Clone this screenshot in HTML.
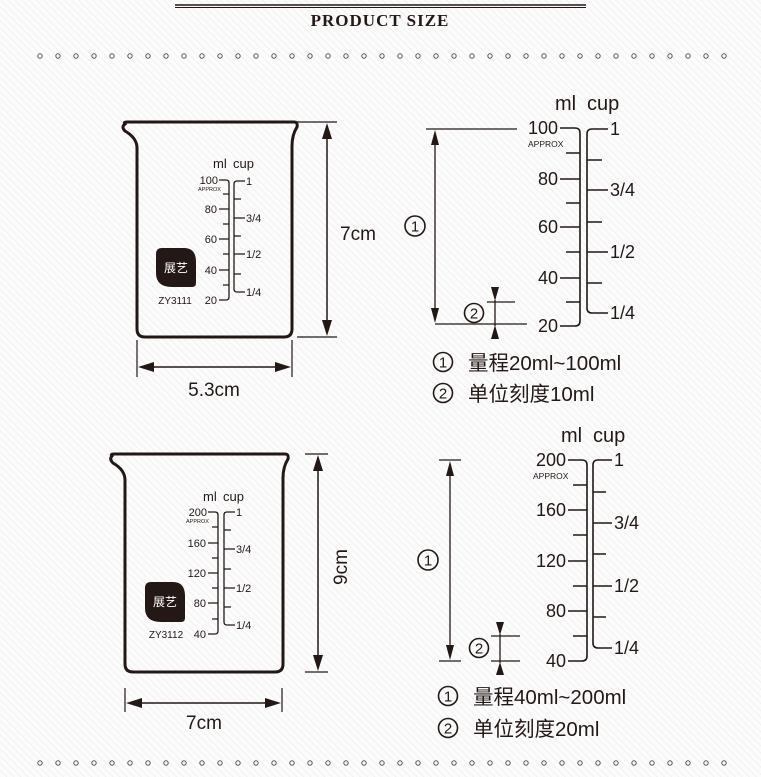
<!DOCTYPE html>
<html><head><meta charset="utf-8"><style>
html,body{margin:0;padding:0;background:#fff}
svg{display:block}
text{font-family:"Liberation Sans","Noto Sans CJK SC",sans-serif;fill:#231815}
</style></head><body>
<svg width="761" height="777" viewBox="0 0 761 777" xmlns="http://www.w3.org/2000/svg">
<defs>
<pattern id="st" width="5" height="5" patternUnits="userSpaceOnUse" patternTransform="rotate(-45)">
<rect width="5" height="5" fill="#fcfcfc"/><rect width="1" height="5" fill="#f1f1f1"/>
</pattern>
<g id="dots" fill="none" stroke="#555" stroke-width="1">
<circle cx="40" cy="0" r="2.2"/><circle cx="58" cy="0" r="2.2"/><circle cx="76" cy="0" r="2.2"/><circle cx="94" cy="0" r="2.2"/><circle cx="112" cy="0" r="2.2"/><circle cx="130" cy="0" r="2.2"/><circle cx="148" cy="0" r="2.2"/><circle cx="166" cy="0" r="2.2"/><circle cx="184" cy="0" r="2.2"/><circle cx="202" cy="0" r="2.2"/><circle cx="220" cy="0" r="2.2"/><circle cx="238" cy="0" r="2.2"/><circle cx="256" cy="0" r="2.2"/><circle cx="274" cy="0" r="2.2"/><circle cx="292" cy="0" r="2.2"/><circle cx="310" cy="0" r="2.2"/><circle cx="328" cy="0" r="2.2"/><circle cx="346" cy="0" r="2.2"/><circle cx="364" cy="0" r="2.2"/><circle cx="382" cy="0" r="2.2"/><circle cx="400" cy="0" r="2.2"/><circle cx="418" cy="0" r="2.2"/><circle cx="436" cy="0" r="2.2"/><circle cx="454" cy="0" r="2.2"/><circle cx="472" cy="0" r="2.2"/><circle cx="490" cy="0" r="2.2"/><circle cx="508" cy="0" r="2.2"/><circle cx="526" cy="0" r="2.2"/><circle cx="544" cy="0" r="2.2"/><circle cx="562" cy="0" r="2.2"/><circle cx="580" cy="0" r="2.2"/><circle cx="598" cy="0" r="2.2"/><circle cx="616" cy="0" r="2.2"/><circle cx="634" cy="0" r="2.2"/><circle cx="652" cy="0" r="2.2"/><circle cx="670" cy="0" r="2.2"/><circle cx="688" cy="0" r="2.2"/><circle cx="706" cy="0" r="2.2"/><circle cx="724" cy="0" r="2.2"/>
</g>
</defs>
<rect width="761" height="777" fill="url(#st)"/>

<!-- header -->
<line x1="175" y1="5" x2="586" y2="5" stroke="#231815" stroke-width="1.5"/>
<line x1="175" y1="7.5" x2="586" y2="7.5" stroke="#231815" stroke-width="1"/>
<text x="380" y="26" text-anchor="middle" style="font-family:'Liberation Serif',serif;font-weight:bold;font-size:17px;letter-spacing:1px">PRODUCT  SIZE</text>
<use href="#dots" y="56"/>
<use href="#dots" y="763"/>

<g stroke="#231815" fill="none">
<!-- beaker 1 -->
<path d="M125,124 Q123,122 127,122 L294,122 Q298,122 297,127 Q292,135 292,146 L292,329 Q292,337 284,337 L145,337 Q137,337 137,329 L137,148 Q137,138 125,131 Q121,127 125,124 Z" stroke-width="3"/>
<line x1="297" y1="122" x2="337" y2="122" stroke-width="1.2"/>
<line x1="297" y1="337" x2="337" y2="337" stroke-width="1.2"/>
<line x1="327" y1="130" x2="327" y2="330" stroke-width="1.5"/>
<line x1="137" y1="340" x2="137" y2="377" stroke-width="1.2"/>
<line x1="292" y1="340" x2="292" y2="377" stroke-width="1.2"/>
<line x1="145" y1="367" x2="285" y2="367" stroke-width="1.5"/>
<path d="M219,180 L226,180 Q229,180 229,183 L229,297 Q229,300 226,300 L219,300" stroke-width="1.3"/>
<path d="M219,209 H229 M219,239 H229 M219,270 H229 M223,194 H229 M223,224 H229 M223,254 H229 M223,285 H229" stroke-width="1.3"/>
<path d="M245,181 L237,181 Q234,181 234,184 L234,289 Q234,292 237,292 L245,292" stroke-width="1.3"/>
<path d="M234,218 H245 M234,254 H245 M234,199 H241 M234,236 H241 M234,274 H241" stroke-width="1.3"/>

<!-- beaker 2 -->
<path d="M112,456 Q110,454 114,454 L285,454 Q289,454 288,459 Q283,467 283,478 L283,664 Q283,672 275,672 L133,672 Q125,672 125,664 L125,480 Q125,470 113,463 Q109,459 112,456 Z" stroke-width="3"/>
<line x1="305" y1="454" x2="328" y2="454" stroke-width="1.2"/>
<line x1="305" y1="672" x2="328" y2="672" stroke-width="1.2"/>
<line x1="318" y1="462" x2="318" y2="664" stroke-width="1.5"/>
<line x1="125" y1="688" x2="125" y2="712" stroke-width="1.2"/>
<line x1="282" y1="688" x2="282" y2="712" stroke-width="1.2"/>
<line x1="133" y1="703" x2="274" y2="703" stroke-width="1.5"/>
<path d="M208,512 L215,512 Q218,512 218,515 L218,631 Q218,634 215,634 L208,634" stroke-width="1.3"/>
<path d="M208,543 H218 M208,573 H218 M208,603 H218 M212,527 H218 M212,558 H218 M212,588 H218 M212,619 H218" stroke-width="1.3"/>
<path d="M235,512 L227,512 Q224,512 224,515 L224,622 Q224,625 227,625 L235,625" stroke-width="1.3"/>
<path d="M224,549 H235 M224,588 H235 M224,530 H231 M224,569 H231 M224,607 H231" stroke-width="1.3"/>

<!-- right scale 1 -->
<path d="M560,128 L575,128 Q580,128 580,133 L580,321 Q580,326 575,326 L560,326" stroke-width="1.6"/>
<path d="M560,179 H580 M560,227 H580 M560,278 H580 M566,153 H580 M566,203 H580 M566,252 H580 M566,302 H580" stroke-width="1.6"/>
<path d="M608,129 L592,129 Q587,129 587,134 L587,308 Q587,313 592,313 L608,313" stroke-width="1.6"/>
<path d="M587,190 H608 M587,252 H608 M587,160 H602 M587,222 H602 M587,283 H602" stroke-width="1.6"/>
<line x1="426" y1="129" x2="517" y2="129" stroke-width="1.3"/>
<line x1="435" y1="324" x2="527" y2="324" stroke-width="1.3"/>
<line x1="435" y1="140" x2="435" y2="314" stroke-width="1.3"/>
<line x1="487" y1="302" x2="515" y2="302" stroke-width="1.3"/>
<line x1="495" y1="300" x2="495" y2="326" stroke-width="1.3"/>

<!-- right scale 2 -->
<path d="M568,460 L582,460 Q587,460 587,465 L587,656 Q587,661 582,661 L568,661" stroke-width="1.6"/>
<path d="M568,510 H587 M568,561 H587 M568,611 H587 M573,485 H587 M573,535 H587 M573,586 H587 M573,636 H587" stroke-width="1.6"/>
<path d="M612,460 L598,460 Q593,460 593,465 L593,643 Q593,648 598,648 L612,648" stroke-width="1.6"/>
<path d="M593,523 H612 M593,586 H612 M593,492 H606 M593,554 H606 M593,617 H606" stroke-width="1.6"/>
<line x1="439" y1="460" x2="461" y2="460" stroke-width="1.3"/>
<line x1="439" y1="661" x2="461" y2="661" stroke-width="1.3"/>
<line x1="450" y1="470" x2="450" y2="651" stroke-width="1.3"/>
<line x1="491" y1="636" x2="520" y2="636" stroke-width="1.3"/>
<line x1="491" y1="661" x2="520" y2="661" stroke-width="1.3"/>
<line x1="500" y1="634" x2="500" y2="663" stroke-width="1.3"/>

<!-- circled numbers -->
<g stroke-width="1.6">
<circle cx="415" cy="226" r="10"/>
<circle cx="474" cy="313" r="9.5"/>
<circle cx="428" cy="560" r="10"/>
<circle cx="479" cy="648" r="9.5"/>
<circle cx="443" cy="362" r="9.5"/>
<circle cx="443" cy="393" r="9.5"/>
<circle cx="448" cy="696" r="9.5"/>
<circle cx="448" cy="728" r="9.5"/>
</g>
</g>
<g style="font-size:15px" text-anchor="middle">
<text x="415" y="231.5">1</text><text x="474" y="318.5">2</text>
<text x="428" y="565.5">1</text><text x="479" y="653.5">2</text>
<text x="443" y="367.5">1</text><text x="443" y="398.5">2</text>
<text x="448" y="701.5">1</text><text x="448" y="733.5">2</text>
</g>

<!-- arrowheads -->
<g fill="#231815">
<path d="M327,123 L322,139 L332,139 Z M327,336 L322,320 L332,320 Z"/>
<path d="M138,367 L154,362 L154,372 Z M291,367 L275,362 L275,372 Z"/>
<path d="M318,455 L313,471 L323,471 Z M318,671 L313,655 L323,655 Z"/>
<path d="M126,703 L142,698 L142,708 Z M281,703 L265,698 L265,708 Z"/>
<path d="M435,130 L431,145 L439,145 Z M435,323 L431,308 L439,308 Z"/>
<path d="M495,301 L491,287 L499,287 Z M495,325 L491,339 L499,339 Z"/>
<path d="M450,461 L446,476 L454,476 Z M450,660 L446,645 L454,645 Z"/>
<path d="M500,635 L496,622 L504,622 Z M500,662 L496,675 L504,675 Z"/>
<path d="M162,248 L184,248 Q196,248 196,262 L196,283 Q196,287 192,287 L172,287 Q156,287 156,273 L156,254 Q156,248 162,248 Z"/>
<path d="M151,582 L173,582 Q185,582 185,596 L185,618 Q185,622 181,622 L161,622 Q145,622 145,608 L145,588 Q145,582 151,582 Z"/>
</g>
<text x="176" y="272" text-anchor="middle" style="fill:#fff;font-size:12px">展艺</text>
<text x="165" y="606" text-anchor="middle" style="fill:#fff;font-size:12px">展艺</text>

<!-- beaker 1 text -->
<text x="213" y="168" style="font-size:13px">ml</text><text x="233" y="168" style="font-size:13px">cup</text>
<g style="font-size:11px" text-anchor="end">
<text x="218" y="184">100</text><text x="217" y="213">80</text><text x="217" y="243">60</text><text x="217" y="274">40</text><text x="217" y="304">20</text>
</g>
<text x="198" y="191" style="font-size:5.5px">APPROX</text>
<g style="font-size:11px">
<text x="246" y="185">1</text><text x="246" y="222">3/4</text><text x="246" y="258">1/2</text><text x="246" y="296">1/4</text>
</g>
<text x="175" y="304" text-anchor="middle" style="font-size:10px">ZY3111</text>
<text x="340" y="240" style="font-size:19px">7cm</text>
<text x="214" y="396" text-anchor="middle" style="font-size:19px">5.3cm</text>

<!-- beaker 2 text -->
<text x="203" y="501" style="font-size:13px">ml</text><text x="223" y="501" style="font-size:13px">cup</text>
<g style="font-size:11px" text-anchor="end">
<text x="207" y="516">200</text><text x="206" y="547">160</text><text x="206" y="577">120</text><text x="206" y="607">80</text><text x="206" y="638">40</text>
</g>
<text x="186" y="523" style="font-size:5.5px">APPROX</text>
<g style="font-size:11px">
<text x="236" y="516">1</text><text x="236" y="553">3/4</text><text x="236" y="592">1/2</text><text x="236" y="629">1/4</text>
</g>
<text x="166" y="638" text-anchor="middle" style="font-size:10px">ZY3112</text>
<text x="347" y="567" text-anchor="middle" transform="rotate(-90 347 567)" style="font-size:19px">9cm</text>
<text x="204" y="729" text-anchor="middle" style="font-size:19px">7cm</text>

<!-- right 1 text -->
<text x="555" y="110" style="font-size:20px">ml</text><text x="587" y="110" style="font-size:20px">cup</text>
<g style="font-size:18px" text-anchor="end">
<text x="558" y="134">100</text><text x="558" y="185">80</text><text x="558" y="233">60</text><text x="558" y="284">40</text><text x="558" y="332">20</text>
</g>
<text x="528" y="147" style="font-size:8.5px">APPROX</text>
<g style="font-size:18px">
<text x="610" y="135">1</text><text x="610" y="196">3/4</text><text x="610" y="258">1/2</text><text x="610" y="319">1/4</text>
</g>
<text x="468" y="370" style="font-size:20.5px">量程20ml~100ml</text>
<text x="468" y="401" style="font-size:20.5px">单位刻度10ml</text>

<!-- right 2 text -->
<text x="561" y="442" style="font-size:20px">ml</text><text x="593" y="442" style="font-size:20px">cup</text>
<g style="font-size:18px" text-anchor="end">
<text x="566" y="466">200</text><text x="566" y="516">160</text><text x="566" y="567">120</text><text x="566" y="617">80</text><text x="566" y="667">40</text>
</g>
<text x="533" y="479" style="font-size:8.5px">APPROX</text>
<g style="font-size:18px">
<text x="614" y="466">1</text><text x="614" y="529">3/4</text><text x="614" y="592">1/2</text><text x="614" y="654">1/4</text>
</g>
<text x="473" y="704" style="font-size:20.5px">量程40ml~200ml</text>
<text x="473" y="736" style="font-size:20.5px">单位刻度20ml</text>
</svg>
</body></html>
